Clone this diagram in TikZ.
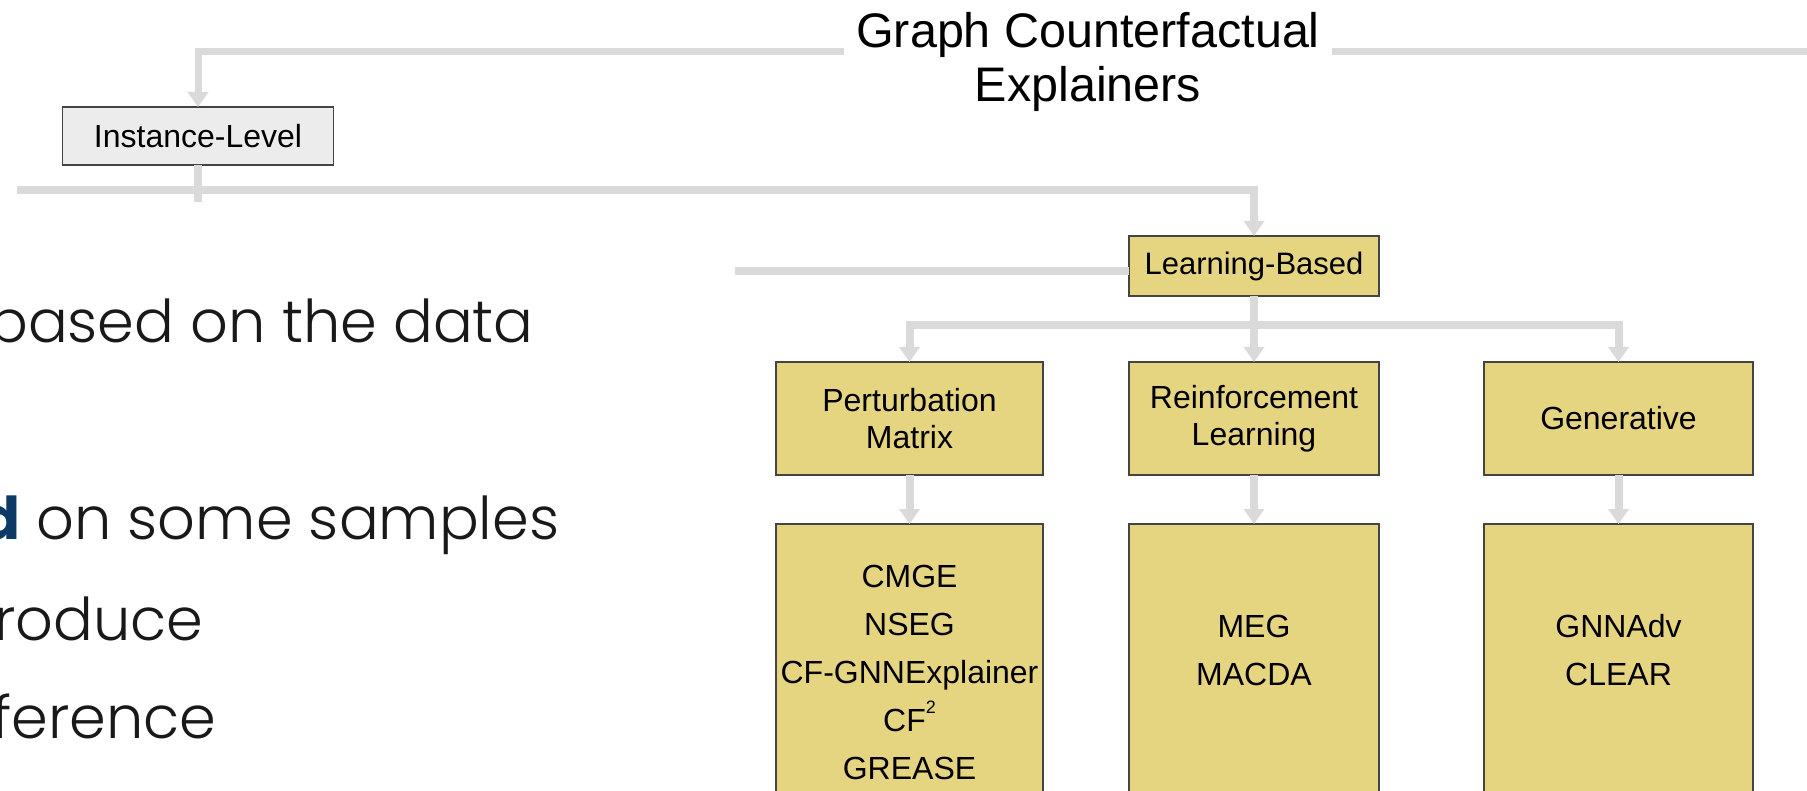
\documentclass[tikz,border=0pt]{standalone}
\usepackage{fontspec}
\setmainfont{Liberation Sans}
\newfontfamily\slidereg{Poppins}
\IfFontExistsTF{Poppins Light}{\newfontfamily\slidefont{Poppins Light}}{\newfontfamily\slidefont{Poppins}}
\usetikzlibrary{arrows.meta}
\definecolor{connc}{HTML}{DADADA}
\definecolor{boxy}{HTML}{E6D580}
\definecolor{boxg}{HTML}{ECECEC}
\definecolor{edgec}{HTML}{444444}
\definecolor{navy}{HTML}{0B3A66}
\begin{document}
\begin{tikzpicture}[x=1pt,y=-1pt,
  conn/.style={draw=connc, line width=8pt},
  tip/.style={-{Triangle[width=20pt,length=15pt]}},
  ybox/.style={draw=edgec, line width=1.6pt, fill=boxy, font=\fontsize{32}{37}\selectfont, align=center, inner sep=0pt, outer sep=0pt},
  gbox/.style={ybox, fill=boxg},
  item/.style={font=\fontsize{32}{48}\selectfont, align=center, inner sep=0pt},
  slide/.style={font=\slidefont\fontsize{59}{70}\selectfont, anchor=base west, inner sep=0pt, text=black!90}
]
\useasboundingbox (0,0) rectangle (1807,791);
\clip (0,0) rectangle (1807,791);
\fill[white] (0,0) rectangle (1807,791);

% left slide text
\node[slide] (t1) at (-12,343) {based on the data};
\node[slide] (t2) at (-20,539) {\textcolor{navy}{\slidereg\bfseries d} on some samples};
\node[slide] (t3) at (-6,640) {roduce};
\node[slide] (t4) at (-8,738) {ference};

% title
\node[anchor=north, align=center, inner ysep=0pt, inner xsep=12pt, font=\fontsize{48.5}{54}\selectfont] (title) at (1088,12) {Graph Counterfactual\\Explainers};
\coordinate (tl) at (0,52);
\coordinate (tr) at (1807,52);

% nodes
\node[gbox, minimum width=271pt, minimum height=58pt] (inst) at (198,136) {Instance-Level};
\node[ybox, minimum width=250pt, minimum height=60pt, font=\fontsize{31}{37}\selectfont] (lb) at (1254,266) {Learning-Based};
\node[ybox, minimum width=267pt, minimum height=113pt] (pm) at (909.5,418.5) {Perturbation\\Matrix};
\node[ybox, minimum width=250pt, minimum height=113pt] (rl) at (1254,418.5) {Reinforcement\\Learning};
\node[ybox, minimum width=269pt, minimum height=113pt] (gen) at (1618.5,418.5) {Generative};

\node[ybox, minimum width=267pt, minimum height=300pt, anchor=north] (pmL) at (909.5,524) {};
\node[ybox, minimum width=250pt, minimum height=300pt, anchor=north] (rlL) at (1254,524) {};
\node[ybox, minimum width=269pt, minimum height=300pt, anchor=north] (genL) at (1618.5,524) {};

\node[item] (pmT) at (909.5,672) {CMGE\\NSEG\\CF-GNNExplainer\\CF\raisebox{0.55em}{\fontsize{18}{18}\selectfont 2}\\GREASE};
\node[item] (rlT) at (1254,650) {MEG\\MACDA};
\node[item] (genT) at (1618.5,650) {GNNAdv\\CLEAR};

% connectors
\draw[conn, line width=7pt, tip] (title.west |- tl) -| (inst.north);
\draw[conn, line width=7pt] (title.east |- tl) -- (tr);
\coordinate (instend) at (198,202);
\draw[conn] (inst.south) -- (instend);
\coordinate (l2) at (17,190);
\draw[conn, tip] (l2) -| (lb.north);
\coordinate (l3) at (735,271);
\draw[conn] (l3) -- (lb.west |- l3);
\coordinate (split) at (1254,325);
\draw[conn] (lb.south) -- (split);
\draw[conn, tip] (split) -| (pm.north);
\draw[conn, tip] (split) -| (gen.north);
\draw[conn, tip] (split) -- (rl.north);
\draw[conn, tip] (pm.south) -- (pmL.north);
\draw[conn, tip] (rl.south) -- (rlL.north);
\draw[conn, tip] (gen.south) -- (genL.north);
\end{tikzpicture}
\end{document}
